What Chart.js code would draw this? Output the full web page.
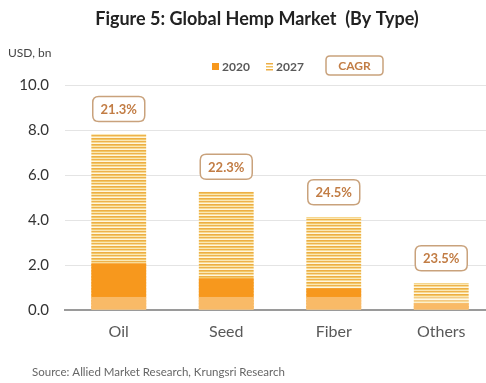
<!DOCTYPE html>
<html><head><meta charset="utf-8">
<script src="https://cdn.jsdelivr.net/npm/chart.js@4/dist/chart.umd.min.js"></script>
<style>
html,body{margin:0;padding:0;background:#fff;overflow:hidden;width:486px;height:383px;}
#wrap{position:relative;width:495px;height:383px;}
</style></head>
<body><div id="wrap"><canvas id="c" width="495" height="383"></canvas></div>
<script>
const categories = ["Oil", "Seed", "Fiber", "Others"];
const values2020 = [2.08, 1.41, 0.96, 0.30];
const values2027 = [7.82, 5.26, 4.12, 1.19];
const cagrLabels = ["21.3%", "22.3%", "24.5%", "23.5%"];
const yTicks = [0, 2, 4, 6, 8, 10];

const FONT = "Lato, 'Open Sans', sans-serif";

function stripePattern(ctx){
  const p = document.createElement('canvas');
  p.width = 8; p.height = 6;
  const g = p.getContext('2d');
  const rows = ['#EDAE45','#F3C866','#FAE8B6','#EEB24C','#F7DB95','#FFF6DE'];
  rows.forEach((c,i)=>{g.fillStyle=c; g.fillRect(0,i,8,1);});
  return ctx.createPattern(p,'repeat');
}

function roundRect(ctx,x,y,w,h,r){
  ctx.beginPath();
  ctx.moveTo(x+r,y);ctx.lineTo(x+w-r,y);ctx.quadraticCurveTo(x+w,y,x+w,y+r);
  ctx.lineTo(x+w,y+h-r);ctx.quadraticCurveTo(x+w,y+h,x+w-r,y+h);
  ctx.lineTo(x+r,y+h);ctx.quadraticCurveTo(x,y+h,x,y+h-r);
  ctx.lineTo(x,y+r);ctx.quadraticCurveTo(x,y,x+r,y);ctx.closePath();
}

const decor = {
  id:'decor',
  afterDatasetsDraw(chart){
    const ctx = chart.ctx, y = chart.scales.y;
    ctx.save();
    ctx.fillStyle = 'rgba(255,255,255,0.33)';
    const yb = y.getPixelForValue(0), yt = y.getPixelForValue(0.58);
    chart.getDatasetMeta(0).data.forEach(b=>{
      ctx.fillRect(b.x - b.width/2, yt, b.width, yb-yt);
    });
    ctx.restore();
    ctx.save();
    const meta = chart.getDatasetMeta(1);
    meta.data.forEach((b,i)=>{
      const cx = b.x, cy = b.y - 25;
      const w = 52, h = 25;
      roundRect(ctx, cx-w/2, cy-h/2, w, h, 6);
      ctx.fillStyle='#fff'; ctx.fill();
      ctx.lineWidth=1.5; ctx.strokeStyle='#C9A27C'; ctx.stroke();
      ctx.fillStyle='#C27D45'; ctx.font='bold 13px '+FONT;
      ctx.textAlign='center'; ctx.textBaseline='middle';
      ctx.fillText(cagrLabels[i], cx, cy+1);
    });
    ctx.restore();
  },
  afterDraw(chart){
    const ctx = chart.ctx;
    ctx.save();
    ctx.textBaseline='middle';
    ctx.fillStyle='#222'; ctx.font='bold 18px '+FONT; ctx.textAlign='center';
    ctx.fillText('Figure 5: Global Hemp Market  (By Type)', 257, 19);
    ctx.textAlign='left'; ctx.font='12px '+FONT; ctx.fillStyle='#444';
    ctx.fillText('USD, bn', 8, 53);
    ctx.fillStyle='#F7981D'; ctx.fillRect(212, 63, 7, 7);
    ctx.fillStyle='#595959'; ctx.font='bold 12px '+FONT;
    ctx.fillText('2020', 222, 67);
    ['#EDAE45','#F1C25F','#EDAE45'].forEach((c,i)=>{ctx.fillStyle=c; ctx.fillRect(266, 63+i*3, 7, 1.5);});
    ctx.fillStyle='#595959';
    ctx.fillText('2027', 276, 67);
    roundRect(ctx, 326, 56, 57, 19, 4);
    ctx.lineWidth=1.5; ctx.strokeStyle='#C9A27C'; ctx.stroke();
    ctx.fillStyle='#C27D45'; ctx.textAlign='center'; ctx.font='bold 12px '+FONT;
    ctx.fillText('CAGR', 354.5, 66);
    ctx.textAlign='left'; ctx.fillStyle='#666'; ctx.font='11.5px '+FONT;
    ctx.fillText('Source: Allied Market Research, Krungsri Research', 32, 372);
    ctx.restore();
  }
};

const ctx = document.getElementById('c').getContext('2d');
new Chart(ctx, {
  type:'bar',
  data:{
    labels: categories,
    datasets:[
      {label:'2020', data: values2020, backgroundColor:'#F7981D', grouped:false, order:0,
       barPercentage:0.51, categoryPercentage:1},
      {label:'2027', data: values2027, backgroundColor: stripePattern(ctx), grouped:false, order:1,
       barPercentage:0.51, categoryPercentage:1}
    ]
  },
  options:{
    responsive:false, animation:false, devicePixelRatio:1,
    layout:{padding:{top:85, left:0, right:0, bottom:0}},
    plugins:{legend:{display:false}, title:{display:false}, tooltip:{enabled:false}},
    scales:{
      x:{
        grid:{display:false, drawTicks:false},
        border:{display:true, color:'#9A9A9A', width:2},
        ticks:{color:'#595959', font:{family:FONT, size:16}, padding:12},
        afterFit(s){ s.height = 73; }
      },
      y:{
        min:0, max:10,
        afterBuildTicks(s){ s.ticks = yTicks.map(v=>({value:v})); },
        grid:{color:'#E4E4E4', lineWidth:1, drawTicks:false},
        border:{display:false},
        ticks:{color:'#333', font:{family:FONT, size:15}, padding:16,
               callback:v=>Number(v).toFixed(1)},
        afterFit(s){ s.width = 65; }
      }
    }
  },
  plugins:[decor]
});
</script></body></html>
